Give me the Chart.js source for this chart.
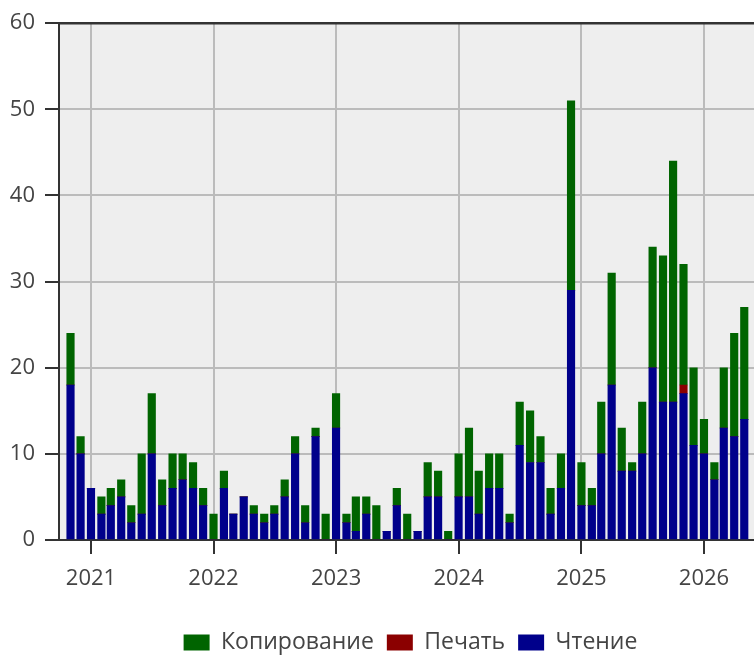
<!DOCTYPE html>
<html><head><meta charset="utf-8">
<script src="https://cdn.jsdelivr.net/npm/chart.js@4.4.0/dist/chart.umd.min.js"></script>
<style>html,body{margin:0;padding:0;overflow:hidden;background:#fff}#wrap{width:821px;height:657px}</style>
</head><body><div id="wrap"><canvas id="c" width="821" height="657"></canvas></div>
<script>
const months = [
 '2020-11','2020-12',
 '2021-01','2021-02','2021-03','2021-04','2021-05','2021-06','2021-07','2021-08','2021-09','2021-10','2021-11','2021-12',
 '2022-01','2022-02','2022-03','2022-04','2022-05','2022-06','2022-07','2022-08','2022-09','2022-10','2022-11','2022-12',
 '2023-01','2023-02','2023-03','2023-04','2023-05','2023-06','2023-07','2023-08','2023-09','2023-10','2023-11','2023-12',
 '2024-01','2024-02','2024-03','2024-04','2024-05','2024-06','2024-07','2024-08','2024-09','2024-10','2024-11','2024-12',
 '2025-01','2025-02','2025-03','2025-04','2025-05','2025-06','2025-07','2025-08','2025-09','2025-10','2025-11','2025-12',
 '2026-01','2026-02','2026-03','2026-04','2026-05'
];
const reading = [
 18,10,
 6,3,4,5,2,3,10,4,6,7,6,4,
 0,6,3,5,3,2,3,5,10,2,12,0,
 13,2,1,3,0,1,4,0,1,5,5,0,
 5,5,3,6,6,2,11,9,9,3,6,29,
 4,4,10,18,8,8,10,20,16,16,17,11,
 10,7,13,12,14
];
const printing = [
 0,0,
 0,0,0,0,0,0,0,0,0,0,0,0,
 0,0,0,0,0,0,0,0,0,0,0,0,
 0,0,0,0,0,0,0,0,0,0,0,0,
 0,0,0,0,0,0,0,0,0,0,0,0,
 0,0,0,0,0,0,0,0,0,0,1,0,
 0,0,0,0,0
];
const copying = [
 6,2,
 0,2,2,2,2,7,7,3,4,3,3,2,
 3,2,0,0,1,1,1,2,2,2,1,3,
 4,1,4,2,4,0,2,3,0,4,3,1,
 5,8,5,4,4,1,5,6,3,3,4,22,
 5,2,6,13,5,1,6,14,17,28,14,9,
 4,2,7,12,13
];
const yearTicks = [2021, 2022, 2023, 2024, 2025, 2026];
const seriesNames = ['Чтение', 'Печать', 'Копирование'];

const DAY = 86400000;
const ORIGIN = Date.UTC(2021, 0, 1);
function dayIndex(ym) { const p = ym.split('-').map(Number); return (Date.UTC(p[0], p[1] - 1, 1) - ORIGIN) / DAY; }
const xs = months.map(dayIndex);
const pts = arr => arr.map((v, i) => ({ x: xs[i], y: v }));
const FONT = "'Open Sans', 'Noto Sans', sans-serif";

const plotBg = {
  id: 'plotBg',
  beforeDraw(chart) {
    const { ctx, chartArea: a } = chart;
    ctx.save(); ctx.fillStyle = '#eeeeee';
    ctx.fillRect(a.left, a.top, a.right - a.left, a.bottom - a.top);
    ctx.restore();
  },
  afterDraw(chart) {
    const { ctx, chartArea: a } = chart;
    ctx.save(); ctx.strokeStyle = '#333333'; ctx.lineWidth = 2.5;
    ctx.beginPath(); ctx.moveTo(a.left - 1, a.top); ctx.lineTo(a.right, a.top); ctx.stroke();
    ctx.restore();
  }
};

new Chart(document.getElementById('c'), {
  type: 'bar',
  data: {
    datasets: [
      { label: seriesNames[0], data: pts(reading), backgroundColor: '#00008b', barThickness: 7.5 },
      { label: seriesNames[1], data: pts(printing), backgroundColor: '#8b0000', barThickness: 7.5 },
      { label: seriesNames[2], data: pts(copying), backgroundColor: '#006400', barThickness: 7.5 }
    ]
  },
  options: {
    responsive: false,
    animation: false,
    layout: { padding: { top: 18, left: 0, right: 0, bottom: -7 } },
    plugins: {
      tooltip: { enabled: false },
      legend: {
        position: 'bottom',
        reverse: true,
        labels: { boxWidth: 26, boxHeight: 16, padding: 13, color: '#444', font: { size: 23, family: FONT } }
      }
    },
    scales: {
      x: {
        type: 'linear', stacked: true, min: -95.3, max: 2174.6, offset: false,
        afterBuildTicks: s => { s.ticks = yearTicks.map(y => ({ value: (Date.UTC(y, 0, 1) - ORIGIN) / DAY })); },
        afterFit: s => { s.height = 78; },
        ticks: {
          autoSkip: false, maxRotation: 0, padding: 12, color: '#444', font: { size: 22, family: FONT },
          callback: v => String(Math.round(2021 + v / 365.25))
        },
        grid: { offset: false, color: '#bbbbbb', lineWidth: 2, tickLength: 14, tickColor: '#333', tickWidth: 2 },
        border: { color: '#333', width: 2 }
      },
      y: {
        stacked: true, min: 0, max: 60,
        afterFit: s => { s.width = 59; },
        ticks: { stepSize: 10, padding: 10, color: '#444', font: { size: 22, family: FONT } },
        grid: { color: '#bbbbbb', lineWidth: 2, tickLength: 14, tickColor: '#333', tickWidth: 2 },
        border: { color: '#333', width: 2 }
      }
    }
  },
  plugins: [plotBg]
});
</script></body></html>
